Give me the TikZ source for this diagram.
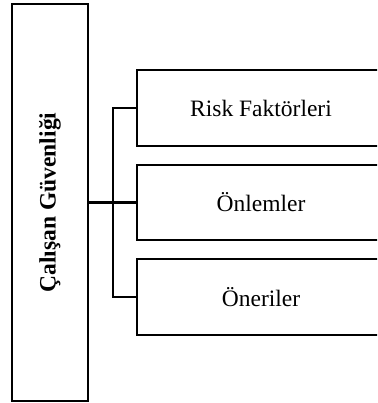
\documentclass[tikz,border=0pt]{standalone}
\usepackage{fontspec}
\setmainfont{Liberation Serif}
\begin{document}
\begin{tikzpicture}[x=1pt,y=-1pt,
  box/.style={draw, line width=2.2pt, inner sep=0pt, font=\fontsize{23.5}{28}\selectfont},
  conn/.style={line width=2.2pt, line join=miter}]
\useasboundingbox (0,0) rectangle (377,403);
\clip (0,0) rectangle (377,403);
\node[box, minimum width=76pt, minimum height=397pt] (main) at (50,202.5)
  {\rotatebox{90}{\bfseries Çalışan Güvenliği}};
\node[box, minimum width=248pt, minimum height=76pt] (b1) at (261,108) {Risk Faktörleri};
\node[box, minimum width=248pt, minimum height=75pt] (b2) at (261,202.5) {Önlemler};
\node[box, minimum width=248pt, minimum height=76pt] (b3) at (261,297) {Öneriler};
\coordinate (bus) at (113,202.5);
\draw[conn] (main.east) -- (b2.west);
\draw[conn] (b1.west) -| (bus) |- (b3.west);
\end{tikzpicture}
\end{document}
